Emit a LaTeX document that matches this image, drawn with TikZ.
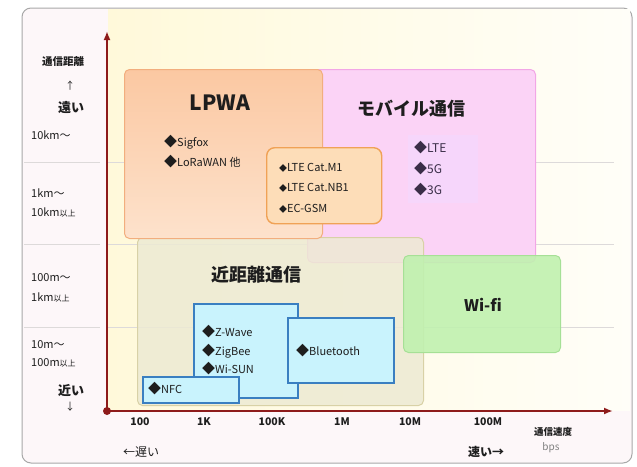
\documentclass[tikz,border=0pt]{standalone}
\usepackage{fontspec}
\setmainfont{Noto Sans CJK JP}
\usetikzlibrary{arrows.meta}
\definecolor{axisred}{HTML}{8E1B1B}
\definecolor{framegray}{HTML}{A8A8A8}
\definecolor{bgpink}{HTML}{FDF7F9}
\definecolor{gridgray}{HTML}{DDDADA}
\definecolor{creamL}{HTML}{FFF9DA}
\definecolor{creamR}{HTML}{FFFEF8}
\definecolor{pinkfill}{HTML}{FBD3F6}
\definecolor{pinkline}{HTML}{F2A6E6}
\definecolor{peachA}{HTML}{FBC8A2}
\definecolor{peachB}{HTML}{FDE2CC}
\definecolor{peachline}{HTML}{F2AE7E}
\definecolor{ovfill}{HTML}{FDDDB8}
\definecolor{ovline}{HTML}{F0A256}
\definecolor{nearfill}{HTML}{EDEAD3}
\definecolor{nearline}{HTML}{D8D1A6}
\definecolor{wififill}{HTML}{C0F1AF}
\definecolor{wifiline}{HTML}{A6E096}
\definecolor{cyanfill}{HTML}{C9F3FD}
\definecolor{boxblue}{HTML}{3A7FC1}
\definecolor{ltefill}{HTML}{F6D6FB}
\definecolor{txt}{HTML}{1E1E1E}
\definecolor{ltetxt}{HTML}{3A2E48}
\newcommand{\dia}{{\fontsize{13}{13}\selectfont ◆}}
\newcommand{\sdia}{{\fontsize{8}{8}\selectfont ◆}}
\tikzset{
  region/.style={rounded corners=5pt, line width=1pt, inner sep=0pt, anchor=north west},
  bluebox/.style={draw=boxblue, fill=cyanfill, line width=1.5pt, inner sep=0pt, anchor=north west},
  item/.style={font=\fontsize{11}{13}\selectfont, anchor=west, inner sep=0pt, text=txt},
  lteitem/.style={font=\fontsize{12}{14}\selectfont, anchor=west, inner sep=0pt, text=ltetxt},
  rangelab/.style={font=\fontsize{11}{13}\selectfont, anchor=west, inner sep=0pt, text=txt},
  axlab/.style={font=\bfseries\fontsize{10.5}{12}\selectfont, inner sep=0pt, text=txt},
  title/.style={font=\bfseries\fontsize{18}{20}\selectfont, inner sep=0pt, text=txt},
  gridline/.style={draw=gridgray, line width=0.8pt},
  axisline/.style={draw=axisred, line width=2.5pt, -{Latex[length=9pt,width=7pt]}}
}
\begin{document}
\begin{tikzpicture}[x=1pt,y=-1pt]
\useasboundingbox (0,0) rectangle (637,466);
% frame
\draw[draw=framegray, fill=bgpink, rounded corners=9pt, line width=1pt] (22,8) rectangle (632,463);
% plot background
\shade[left color=creamL, right color=creamR] (108,9) rectangle (630,410);
% grid lines
\foreach \yy in {162,244,327}{
  \draw[gridline] (24,\yy) -- (100,\yy);
  \draw[gridline] (108,\yy) -- (614,\yy);
}
% regions
\node[region, draw=pinkline, fill=pinkfill, minimum width=228pt, minimum height=193pt] (mobile) at (307,69) {};
\node[region, draw=nearline, fill=nearfill, fill opacity=0.85, minimum width=286pt, minimum height=168pt] (near) at (137,237) {};
\node[region, draw=peachline, top color=peachA, bottom color=peachB, minimum width=198pt, minimum height=169pt] (lpwa) at (124,69) {};
\node[region, draw=ovline, fill=ovfill, line width=1.4pt, rounded corners=8pt, minimum width=115pt, minimum height=76pt] (overlap) at (266,147) {};
\node[anchor=north west, fill=ltefill, inner sep=0pt, minimum width=70pt, minimum height=68pt] (ltebox) at (408,135) {};
\node[region, draw=wifiline, fill=wififill, fill opacity=0.9, minimum width=157pt, minimum height=97pt] (wifi) at (403,255) {};
\node[bluebox, minimum width=104pt, minimum height=94pt] (blueA) at (193,303) {};
\node[bluebox, minimum width=106pt, minimum height=65pt] (blueB) at (287,317) {};
\node[bluebox, minimum width=96pt, minimum height=26pt] (blueC) at (142,376) {};
% titles
\node[title, font=\bfseries\fontsize{21}{24}\selectfont] (tlpwa) at (220,103) {LPWA};
\node[title] (tmobile) at (411,109) {モバイル通信};
\node[title] (tnear) at (256,275) {近距離通信};
\node[title, font=\bfseries\fontsize{16}{18}\selectfont] (twifi) at (483,305) {Wi-fi};
% LPWA items
\node[item] (l1) at (164,142) {\dia Sigfox};
\node[item] (l2) at (164,162) {\dia LoRaWAN 他};
% overlap items
\node[item] (o1) at (279,168) {\sdia LTE Cat.M1};
\node[item] (o2) at (279,188) {\sdia LTE Cat.NB1};
\node[item] (o3) at (279,209) {\sdia EC-GSM};
% mobile items
\node[lteitem] (m1) at (414,148) {\dia LTE};
\node[lteitem] (m2) at (414,169) {\dia 5G};
\node[lteitem] (m3) at (414,190) {\dia 3G};
% near-field items
\node[item] (n1) at (202,332) {\dia Z-Wave};
\node[item] (n2) at (202,351) {\dia ZigBee};
\node[item] (n3) at (202,369) {\dia Wi-SUN};
\node[item] (n4) at (296,351) {\dia Bluetooth};
\node[item] (n5) at (148,389) {\dia NFC};
% axes
\coordinate (origin) at (107,411);
\coordinate (yend) at (107,31);
\coordinate (xend) at (613,411);
\draw[axisline] (origin) -- (yend);
\draw[axisline] (origin) -- (xend);
\fill[axisred] (origin) circle (4pt);
% y labels
\node[axlab] (ytitle) at (63,62) {通信距離};
\node[inner sep=0pt, font=\fontsize{10}{12}\selectfont, text=txt] (yup) at (70,86) {↑};
\node[inner sep=0pt, font=\bfseries\fontsize{13}{15}\selectfont, text=txt] (yfar) at (71,107) {遠い};
\node[rangelab] (r1) at (31,135) {10km～};
\node[rangelab] (r2a) at (31,193) {1km～};
\node[rangelab] (r2b) at (31,212) {10km{\fontsize{8}{9}\selectfont 以上}};
\node[rangelab] (r3a) at (31,278) {100m～};
\node[rangelab] (r3b) at (31,297) {1km{\fontsize{8}{9}\selectfont 以上}};
\node[rangelab] (r4a) at (31,345) {10m～};
\node[rangelab] (r4b) at (31,363) {100m{\fontsize{8}{9}\selectfont 以上}};
\node[inner sep=0pt, font=\bfseries\fontsize{13}{15}\selectfont, text=txt] (ynear) at (71,390) {近い};
\node[inner sep=0pt, font=\fontsize{10}{12}\selectfont, text=txt] (ydown) at (70,407) {↓};
% x labels
\node[axlab] (x1) at (140,422) {100};
\node[axlab] (x2) at (204,422) {1K};
\node[axlab] (x3) at (272,422) {100K};
\node[axlab] (x4) at (342,422) {1M};
\node[axlab] (x5) at (410,422) {10M};
\node[axlab] (x6) at (488,422) {100M};
\node[inner sep=0pt, font=\fontsize{12}{14}\selectfont, text=txt] (slow) at (141,452) {←遅い};
\node[inner sep=0pt, font=\bfseries\fontsize{12}{14}\selectfont, text=txt] (fast) at (486,452) {速い→};
\node[axlab, font=\bfseries\fontsize{9.5}{11}\selectfont] (xtitle) at (553,432) {通信速度};
\node[inner sep=0pt, font=\fontsize{10}{12}\selectfont, text=gray] (bps) at (551,448) {bps};
\end{tikzpicture}
\end{document}
